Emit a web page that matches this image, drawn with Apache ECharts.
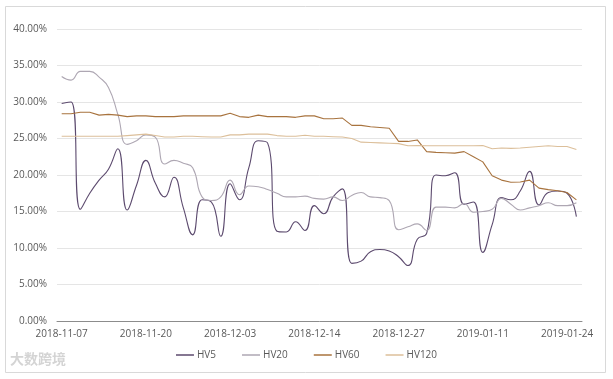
<!DOCTYPE html>
<html><head><meta charset="utf-8">
<script src="https://cdn.jsdelivr.net/npm/echarts@6/dist/echarts.min.js"></script>
<style>html,body{margin:0;padding:0;background:#fff}#c{width:613px;height:379px}</style>
</head><body><div id="c"></div>
<script>
const dates = ['2018-11-07','2018-11-08','2018-11-09','2018-11-12','2018-11-13','2018-11-14','2018-11-15','2018-11-16','2018-11-19','2018-11-20',
'2018-11-21','2018-11-22','2018-11-23','2018-11-26','2018-11-27','2018-11-28','2018-11-29','2018-11-30','2018-12-03','2018-12-04',
'2018-12-05','2018-12-06','2018-12-07','2018-12-10','2018-12-11','2018-12-12','2018-12-13','2018-12-14','2018-12-17','2018-12-18',
'2018-12-19','2018-12-20','2018-12-21','2018-12-24','2018-12-25','2018-12-26','2018-12-27','2018-12-28','2019-01-02','2019-01-03',
'2019-01-04','2019-01-07','2019-01-08','2019-01-09','2019-01-10','2019-01-11','2019-01-14','2019-01-15','2019-01-16','2019-01-17',
'2019-01-18','2019-01-21','2019-01-22','2019-01-23','2019-01-24','2019-01-25'];
const labelIdx = [0, 9, 18, 27, 36, 45, 54];
const yTicks = [0, 5, 10, 15, 20, 25, 30, 35, 40];

const hv5 = [29.8,30.0,15.3,17.5,19.3,20.8,23.6,15.2,18.6,22.0,
18.9,17.0,19.7,15.5,11.8,16.6,16.3,11.6,18.8,16.6,
21.0,24.7,24.4,12.3,12.2,13.6,12.4,15.8,14.7,17.0,
18.1,7.9,8.2,9.5,9.8,9.6,8.8,7.6,11.2,12.0,
20.0,19.9,20.3,16.0,16.3,9.4,13.2,16.9,16.6,17.8,
20.5,15.9,17.6,17.8,17.5,14.3];
const hv20 = [33.5,33.0,34.2,34.2,33.4,32.0,28.3,24.2,24.7,25.5,
25.2,21.5,22.0,21.6,21.0,17.0,16.5,17.0,19.3,17.3,
18.5,18.4,18.0,17.5,17.0,17.0,17.1,16.8,16.7,17.0,
16.5,17.2,17.6,17.0,16.9,16.5,12.5,12.9,13.3,12.4,
15.6,15.6,15.5,16.1,14.9,15.0,15.3,16.8,16.0,15.2,
15.5,15.8,16.2,15.8,15.8,16.2];
const hv60 = [28.4,28.4,28.6,28.6,28.2,28.3,28.2,28.0,28.1,28.1,
28.0,28.0,28.0,28.1,28.1,28.1,28.1,28.1,28.45,28.0,
27.9,28.2,28.0,28.0,28.0,27.9,28.1,28.1,27.7,27.7,
27.8,26.8,26.8,26.6,26.5,26.4,24.6,24.6,24.8,23.2,
23.1,23.05,23.0,23.2,22.5,21.8,19.9,19.3,19.0,19.05,
19.3,18.2,18.0,17.85,17.6,16.6];
const hv120 = [25.3,25.3,25.3,25.3,25.3,25.3,25.3,25.4,25.5,25.6,
25.4,25.2,25.2,25.3,25.3,25.25,25.2,25.2,25.5,25.5,
25.6,25.6,25.6,25.4,25.3,25.3,25.45,25.3,25.3,25.25,
25.2,25.0,24.5,24.45,24.4,24.35,24.3,24.0,24.05,24.0,
24.0,24.0,24.0,24.0,24.0,24.05,23.6,23.7,23.65,23.7,
23.8,23.9,24.0,23.9,23.9,23.5];

const seriesNames = ['HV5','HV20','HV60','HV120'];
const colors = ['#5c4a6e','#aea7b3','#a8733e','#dcbf9a'];
const pair = arr => arr.map((v, i) => [i, v]);
const allData = [hv5, hv20, hv60, hv120];
const smooth = [0.5, 0.5, false, false];

const chart = echarts.init(document.getElementById('c'), null, {renderer: 'canvas'});
const font = '"Open Sans", "Noto Sans", sans-serif';
chart.setOption({
  animation: false,
  backgroundColor: '#fff',
  textStyle: {fontFamily: font},
  graphic: [
    {type: 'rect', shape: {x: 5.5, y: 6.5, width: 600, height: 366}, style: {fill: 'none', stroke: '#d9d9d9', lineWidth: 1}, silent: true},
    {type: 'text', left: 10, top: 352, style: {text: '大数跨境', fill: '#d4d4d4', font: 'bold 14px "Noto Sans CJK SC"'}, silent: true}
  ],
  grid: {left: 57, right: 31, top: 29, bottom: 58},
  xAxis: {
    type: 'value', min: -0.5, max: 55.6,
    axisLine: {show: true, onZero: false, lineStyle: {color: '#8c8c8c', width: 1}},
    axisTick: {show: false},
    splitLine: {show: false},
    axisLabel: {customValues: labelIdx, formatter: v => dates[Math.round(v)], color: '#595959', fontSize: 10, margin: 8, fontFamily: font}
  },
  yAxis: {
    type: 'value', min: 0, max: 40, interval: 5,
    axisLine: {show: false}, axisTick: {show: false},
    splitLine: {lineStyle: {color: '#e5e5e5', width: 1}},
    axisLabel: {formatter: v => v.toFixed(2) + '%', color: '#595959', fontSize: 10, margin: 10, fontFamily: font}
  },
  legend: {
    data: seriesNames, bottom: 14, left: 'center', icon: 'rect', itemWidth: 18, itemHeight: 1.5, itemGap: 26,
    textStyle: {color: '#595959', fontSize: 10, fontFamily: font, padding: [0, 0, 0, -2]}
  },
  series: allData.map((d, k) => ({
    name: seriesNames[k], type: 'line', data: pair(d), smooth: smooth[k],
    showSymbol: false, symbol: 'none',
    lineStyle: {color: colors[k], width: 1.1}, itemStyle: {color: colors[k]}
  }))
});
</script></body></html>
